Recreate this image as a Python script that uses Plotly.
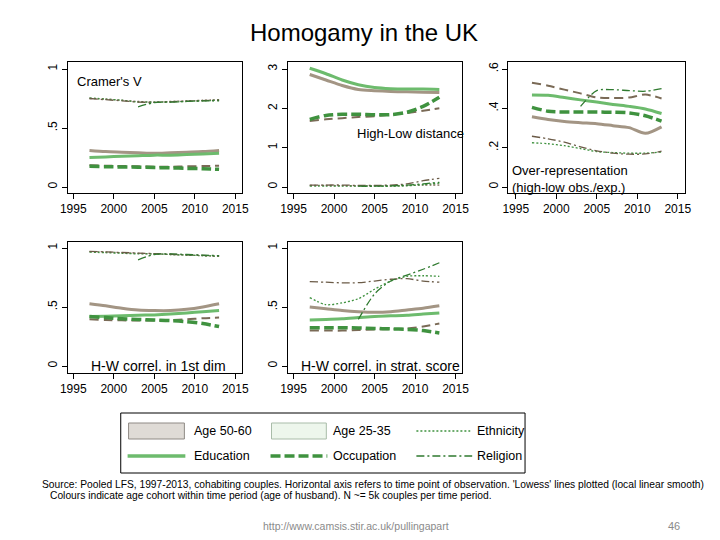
import plotly.graph_objects as go

# The page body has an 8px margin; the figure is sized to fit the 720x540 window
OFF = 8
W, H = 720 - OFF, 540 - OFF

years = [1997, 1999, 2001, 2003, 2005, 2007, 2009, 2011, 2013]
x_ticks = [1995, 2000, 2005, 2010, 2015]

# ---- Panel 1: Cramer's V ----
cv_edu_old = [0.31, 0.30, 0.295, 0.29, 0.285, 0.29, 0.295, 0.30, 0.31]
cv_edu_young = [0.25, 0.255, 0.26, 0.265, 0.27, 0.27, 0.275, 0.28, 0.285]
cv_occ_old = [0.185, 0.18, 0.178, 0.175, 0.172, 0.172, 0.175, 0.178, 0.18]
cv_occ_young = [0.175, 0.172, 0.17, 0.168, 0.165, 0.162, 0.158, 0.155, 0.15]
cv_eth_old = [0.75, 0.745, 0.735, 0.725, 0.72, 0.725, 0.73, 0.735, 0.74]
cv_eth_young = [0.755, 0.745, 0.735, 0.72, 0.72, 0.72, 0.725, 0.73, 0.735]
cv_rel_old = [0.75, 0.74, 0.73, 0.72, 0.718, 0.722, 0.728, 0.732, 0.735]
cv_rel_young = [None, None, None, 0.68, 0.715, 0.72, 0.725, 0.73, 0.73]

# ---- Panel 2: High-Low distance ----
hl_edu_old = [2.86, 2.72, 2.58, 2.48, 2.45, 2.43, 2.42, 2.41, 2.40]
hl_edu_young = [3.02, 2.88, 2.72, 2.60, 2.53, 2.50, 2.49, 2.49, 2.48]
hl_occ_old = [1.68, 1.72, 1.75, 1.78, 1.80, 1.84, 1.88, 1.94, 2.00]
hl_occ_young = [1.72, 1.82, 1.85, 1.85, 1.84, 1.84, 1.90, 2.05, 2.28]
hl_eth_old = [0.04, 0.04, 0.035, 0.03, 0.03, 0.03, 0.04, 0.05, 0.05]
hl_eth_young = [0.02, 0.02, 0.02, 0.02, 0.02, 0.02, 0.03, 0.06, 0.10]
hl_rel_old = [0.05, 0.05, 0.05, 0.04, 0.04, 0.05, 0.08, 0.16, 0.22]
hl_rel_young = [None, None, None, 0.02, 0.02, 0.03, 0.05, 0.08, 0.12]

# ---- Panel 3: Over-representation ----
ov_edu_old = [0.357, 0.343, 0.333, 0.327, 0.322, 0.312, 0.302, 0.273, 0.306]
ov_edu_young = [0.468, 0.466, 0.455, 0.443, 0.432, 0.42, 0.41, 0.397, 0.374]
ov_occ_old = [0.53, 0.515, 0.495, 0.476, 0.455, 0.452, 0.455, 0.47, 0.45]
ov_occ_young = [0.405, 0.385, 0.381, 0.381, 0.381, 0.38, 0.377, 0.362, 0.335]
ov_eth_old = [None] * 9
ov_eth_young = [0.225, 0.22, 0.21, 0.195, 0.18, 0.175, 0.172, 0.172, 0.178]
ov_rel_old = [0.258, 0.245, 0.228, 0.204, 0.184, 0.172, 0.167, 0.168, 0.182]
ov_rel_young = [None, None, None, 0.41, 0.49, 0.495, 0.49, 0.487, 0.50]

# ---- Panel 4: H-W correl. in 1st dim ----
d1_edu_old = [0.527, 0.51, 0.49, 0.475, 0.47, 0.47, 0.48, 0.50, 0.527]
d1_edu_young = [0.42, 0.422, 0.425, 0.43, 0.433, 0.44, 0.45, 0.46, 0.47]
d1_occ_old = [0.397, 0.39, 0.387, 0.385, 0.385, 0.39, 0.395, 0.405, 0.41]
d1_occ_young = [0.42, 0.41, 0.40, 0.395, 0.39, 0.385, 0.375, 0.36, 0.334]
d1_eth_old = [0.97, 0.965, 0.96, 0.955, 0.95, 0.945, 0.94, 0.935, 0.93]
d1_eth_young = [0.965, 0.96, 0.955, 0.95, 0.95, 0.945, 0.94, 0.935, 0.93]
d1_rel_old = [0.972, 0.967, 0.962, 0.957, 0.952, 0.947, 0.942, 0.937, 0.932]
d1_rel_young = [None, None, None, 0.90, 0.945, 0.95, 0.945, 0.94, 0.935]

# ---- Panel 5: H-W correl. in strat. score ----
ss_edu_old = [0.50, 0.485, 0.47, 0.46, 0.455, 0.46, 0.475, 0.49, 0.51]
ss_edu_young = [0.39, 0.395, 0.40, 0.41, 0.42, 0.425, 0.43, 0.44, 0.45]
ss_occ_old = [0.30, 0.30, 0.30, 0.305, 0.31, 0.312, 0.318, 0.335, 0.36]
ss_occ_young = [0.325, 0.325, 0.325, 0.322, 0.318, 0.315, 0.31, 0.30, 0.28]
ss_eth_old = [None] * 9
ss_eth_young = [0.58, 0.52, 0.535, 0.57, 0.65, 0.72, 0.76, 0.765, 0.76]
ss_rel_old = [0.715, 0.71, 0.705, 0.706, 0.72, 0.735, 0.74, 0.72, 0.71]
ss_rel_young = [None, None, None, 0.395, 0.61, 0.72, 0.77, 0.82, 0.875]

panel_labels = ["Cramer's V", "High-Low distance",
                "Over-representation<br>(high-low obs./exp.)",
                "H-W correl. in 1st dim", "H-W correl. in strat. score"]
y_tickvals = [[0, 0.5, 1], [0, 1, 2, 3], [0, 0.2, 0.4, 0.6], [0, 0.5, 1], [0, 0.5, 1]]
y_ticktext = [["0", ".5", "1"], ["0", "1", "2", "3"], ["0", ".2", ".4", ".6"],
              ["0", ".5", "1"], ["0", ".5", "1"]]

legend_labels = ["Age 50-60", "Age 25-35", "Ethnicity", "Education", "Occupation", "Religion"]
title_text = "Homogamy in the UK"
source_lines = ["Source: Pooled LFS, 1997-2013, cohabiting couples. Horizontal axis refers to time point of observation. 'Lowess' lines plotted (local linear smooth)",
                "Colours indicate age cohort within time period (age of husband). N ~= 5k couples per time period."]
url_text = "http://www.camsis.stir.ac.uk/pullingapart"
page_no = "46"

panels = [
    dict(edu_old=cv_edu_old, edu_young=cv_edu_young, occ_old=cv_occ_old, occ_young=cv_occ_young,
         eth_old=cv_eth_old, eth_young=cv_eth_young, rel_old=cv_rel_old, rel_young=cv_rel_young),
    dict(edu_old=hl_edu_old, edu_young=hl_edu_young, occ_old=hl_occ_old, occ_young=hl_occ_young,
         eth_old=hl_eth_old, eth_young=hl_eth_young, rel_old=hl_rel_old, rel_young=hl_rel_young),
    dict(edu_old=ov_edu_old, edu_young=ov_edu_young, occ_old=ov_occ_old, occ_young=ov_occ_young,
         eth_old=ov_eth_old, eth_young=ov_eth_young, rel_old=ov_rel_old, rel_young=ov_rel_young),
    dict(edu_old=d1_edu_old, edu_young=d1_edu_young, occ_old=d1_occ_old, occ_young=d1_occ_young,
         eth_old=d1_eth_old, eth_young=d1_eth_young, rel_old=d1_rel_old, rel_young=d1_rel_young),
    dict(edu_old=ss_edu_old, edu_young=ss_edu_young, occ_old=ss_occ_old, occ_young=ss_occ_young,
         eth_old=ss_eth_old, eth_young=ss_eth_young, rel_old=ss_rel_old, rel_young=ss_rel_young),
]

BROWN = "#a39584"
BROWN_D = "#7a6a56"
GREEN = "#6dbb6d"
GREEN_D = "#3f923f"
DASH_OCC_OLD = "9px,5px"
DASH_OCC_YOUNG = "10px,4px"
DASH_DOT = "2px,2px"
DASH_REL = "8px,3px,2px,3px"

styles = {
    "edu_old": dict(color=BROWN, width=3, dash="solid"),
    "edu_young": dict(color=GREEN, width=3, dash="solid"),
    "occ_old": dict(color=BROWN_D, width=2, dash=DASH_OCC_OLD),
    "occ_young": dict(color=GREEN_D, width=3.5, dash=DASH_OCC_YOUNG),
    "eth_old": dict(color=BROWN_D, width=1.3, dash=DASH_DOT),
    "eth_young": dict(color=GREEN_D, width=1.3, dash=DASH_DOT),
    "rel_old": dict(color="#6b5b47", width=1.3, dash=DASH_REL),
    "rel_young": dict(color="#2f7a2f", width=1.3, dash=DASH_REL),
}
order = ["edu_old", "edu_young", "occ_old", "occ_young", "eth_old", "eth_young", "rel_old", "rel_young"]

# frame geometry in window pixels: (left, right, top, bottom)
frames = [(61, 239, 62, 193), (286, 464, 62, 193), (511, 691, 62, 193),
          (61, 239, 242, 373), (286, 464, 242, 373)]
x_first_tick_px = [5.5, 5.5, 7.5, 5.5, 5.5]
px_per_year = 8.275
y_top_tick = [1, 3, 0.6, 1, 1]
zero_off = [6, 6, 6, 7, 7]      # px from frame bottom to value 0
top_off = [7, 7, 7, 6, 6]       # px from frame top to top tick


def px(x):
    return (x - OFF) / W


def py(y):
    return 1 - (y - OFF) / H


fig = go.Figure()
layout = dict(width=W, height=H, margin=dict(l=0, r=0, t=0, b=0),
              paper_bgcolor="white", plot_bgcolor="white", showlegend=False,
              font=dict(family="Liberation Sans, Arial, sans-serif", color="black"))

for i, (pdata, fr) in enumerate(zip(panels, frames)):
    n = "" if i == 0 else str(i + 1)
    l, r, t, b = fr
    x0 = 1995 - x_first_tick_px[i] / px_per_year
    x1 = x0 + (r - l) / px_per_year
    span_px = (b - zero_off[i]) - (t + top_off[i])
    upp = y_top_tick[i] / span_px
    y0 = -zero_off[i] * upp
    y1 = y_top_tick[i] + top_off[i] * upp
    layout["xaxis" + n] = dict(domain=[px(l), px(r)], range=[x0, x1], anchor="y" + n,
                               tickvals=x_ticks, ticks="outside", ticklen=5, tickcolor="black",
                               showline=True, mirror=True, linecolor="black", linewidth=1,
                               showgrid=False, zeroline=False, tickfont=dict(size=12))
    layout["yaxis" + n] = dict(domain=[py(b), py(t)], range=[y0, y1], anchor="x" + n,
                               tickvals=y_tickvals[i], ticktext=y_ticktext[i], tickangle=-90,
                               ticks="outside", ticklen=5, tickcolor="black",
                               showline=True, mirror=True, linecolor="black", linewidth=1,
                               showgrid=False, zeroline=False, tickfont=dict(size=12))
    for key in order:
        st = styles[key]
        fig.add_trace(go.Scatter(x=years, y=pdata[key], mode="lines", xaxis="x" + n, yaxis="y" + n,
                                 line=dict(color=st["color"], width=st["width"], dash=st["dash"],
                                           shape="spline", smoothing=0.8),
                                 connectgaps=False, hoverinfo="skip"))

annotations = []
label_pos = [(1995.25, 0.89, "left", 13), (2002.6, 1.37, "left", 13), (1994.3, 0.04, "left", 13),
             (2005.5, 0.0, "center", 14), (2005.7, 0.0, "center", 14)]
for i, (lx, ly, anc, fs) in enumerate(label_pos):
    n = "" if i == 0 else str(i + 1)
    annotations.append(dict(x=lx, y=ly, xref="x" + n, yref="y" + n, text=panel_labels[i],
                            showarrow=False, xanchor=anc, yanchor="middle", align="left",
                            font=dict(size=fs)))

annotations.append(dict(x=px(363), y=py(33), xref="paper", yref="paper", text=title_text,
                        showarrow=False, font=dict(size=24), xanchor="center", yanchor="middle"))
annotations.append(dict(x=px(33), y=py(484), xref="paper", yref="paper", text=source_lines[0],
                        showarrow=False, font=dict(size=10.25), xanchor="left", yanchor="middle"))
annotations.append(dict(x=px(41), y=py(495), xref="paper", yref="paper", text=source_lines[1],
                        showarrow=False, font=dict(size=10.25), xanchor="left", yanchor="middle"))
annotations.append(dict(x=px(258), y=py(526), xref="paper", yref="paper", text=url_text,
                        showarrow=False, font=dict(size=10.5, color="#8a8a8a"), xanchor="left", yanchor="middle"))
annotations.append(dict(x=px(680), y=py(526), xref="paper", yref="paper", text=page_no,
                        showarrow=False, font=dict(size=11, color="#8a8a8a"), xanchor="center", yanchor="middle"))

shapes = []
shapes.append(dict(type="rect", xref="paper", yref="paper", x0=px(115), x1=px(528), y0=py(473), y1=py(413),
                   line=dict(color="black", width=1), fillcolor="white"))
shapes.append(dict(type="rect", xref="paper", yref="paper", x0=px(123), x1=px(180), y0=py(439), y1=py(423),
                   line=dict(color="#8f8a85", width=1), fillcolor="#dfdbd6"))
shapes.append(dict(type="rect", xref="paper", yref="paper", x0=px(269), x1=px(325), y0=py(439), y1=py(423),
                   line=dict(color="#a9bca9", width=1), fillcolor="#edf6ec"))
leg_lines = [(417, 472, 431, GREEN_D, 1.3, DASH_DOT),
             (122, 181, 456, GREEN, 3.5, "solid"),
             (268, 326, 456, GREEN_D, 3.5, DASH_OCC_YOUNG),
             (417, 474, 456, "#2f7a2f", 1.3, DASH_REL)]
for (a, c, yy, col, wd, ds) in leg_lines:
    shapes.append(dict(type="line", xref="paper", yref="paper", x0=px(a), x1=px(c), y0=py(yy), y1=py(yy),
                       line=dict(color=col, width=wd, dash=ds)))
leg_text_pos = [(188, 431), (330, 431), (477, 431), (188, 456), (330, 456), (477, 456)]
for lab, (tx, ty) in zip(legend_labels, leg_text_pos):
    annotations.append(dict(x=px(tx), y=py(ty), xref="paper", yref="paper", text=lab,
                            showarrow=False, font=dict(size=12.5), xanchor="left", yanchor="middle"))

layout["annotations"] = annotations
layout["shapes"] = shapes
fig.update_layout(**layout)
fig.write_html("out.html")
